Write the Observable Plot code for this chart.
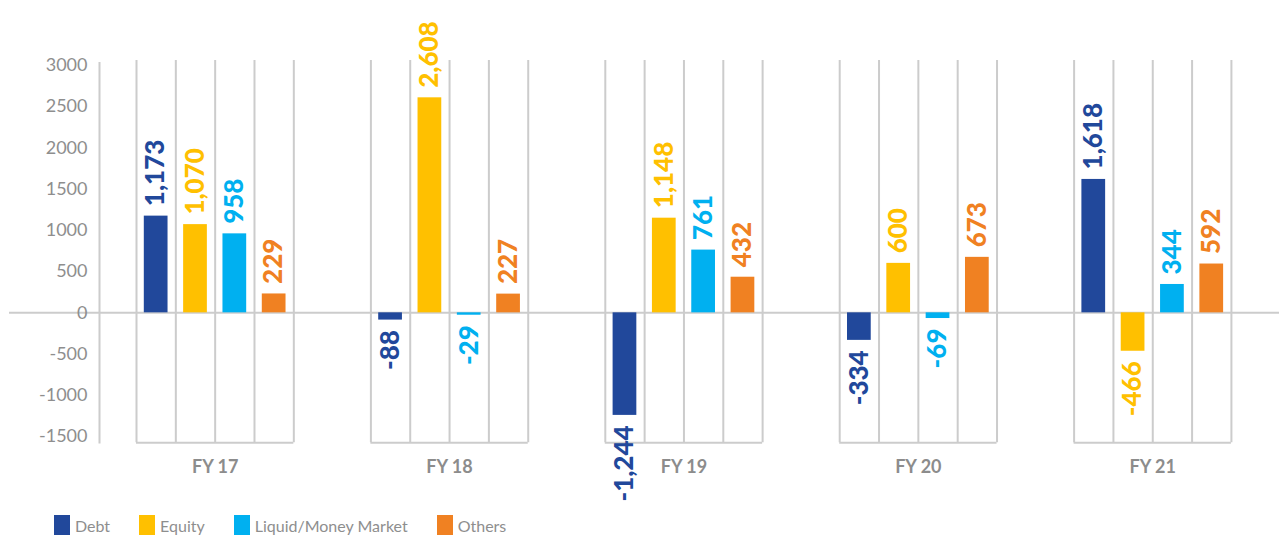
<!DOCTYPE html>
<html><head><meta charset="utf-8">
<script src="https://cdn.jsdelivr.net/npm/d3@7"></script>
<script src="https://cdn.jsdelivr.net/npm/@observablehq/plot@0.6"></script>
<style>
body{margin:0;background:#fff;font-family:Lato,"Open Sans",sans-serif;}
#chart{position:relative;width:1279px;height:535px;overflow:hidden;}
.legend{position:absolute;left:54px;top:515px;display:flex;align-items:center;font-size:16px;color:#8e8e8e;}
.item{display:flex;align-items:center;margin-right:29px;}
.sw{width:16px;height:20px;margin-right:5px;}
</style></head><body><div id="chart"></div><script>
// ---- data ----
const years = ["FY 17", "FY 18", "FY 19", "FY 20", "FY 21"];
const series = ["Debt", "Equity", "Liquid/Money Market", "Others"];
const debt = [1173, -88, -1244, -334, 1618];
const equity = [1070, 2608, 1148, 600, -466];
const liquid = [958, -29, 761, -69, 344];
const others = [229, 227, 432, 673, 592];
const colors = ["#21489B", "#FFC000", "#00B0F0", "#F08122"];
const yTicks = [-1500, -1000, -500, 0, 500, 1000, 1500, 2000, 2500, 3000];

const seriesValues = [debt, equity, liquid, others];
const rows = [];
years.forEach((yr, g) => series.forEach((s, i) => rows.push({year: yr, g, i, series: s, value: seriesValues[i][g]})));

// ---- layout ----
const SLOT = 39.33;            // px per bar slot
const STEP = 234.4 / SLOT;     // group step in slots
const FIRST = 136;             // px of first slot boundary
const W = 1279;
const ML = 99;
const xDomain = [(ML - FIRST) / SLOT, (W - FIRST) / SLOT];
const gridColor = "#cccccc";
const fmt = v => v.toLocaleString("en-US");

const bounds = [];
years.forEach((yr, g) => { for (let s = 0; s <= 4; s++) bounds.push(g * STEP + s); });

const plot = Plot.plot({
  width: W,
  height: 505,
  marginLeft: ML,
  marginRight: 0,
  marginTop: 20,
  marginBottom: 60,
  style: {fontFamily: "Lato, 'Open Sans', sans-serif", background: "#fff"},
  x: {domain: xDomain, axis: null},
  y: {domain: [-1500, 3000], range: [436, 65], axis: null},
  color: {domain: series, range: colors},
  marks: [
    Plot.ruleX(bounds, {x: d => d, y1: -1577, y2: 3061, stroke: gridColor, strokeWidth: 2}),
    Plot.ruleY(years, {x1: (d, g) => g * STEP, x2: (d, g) => g * STEP + 4, y: -1577, stroke: gridColor, strokeWidth: 2}),
    Plot.ruleX([xDomain[0]], {y1: -1590, y2: 3036, stroke: gridColor, strokeWidth: 2}),
    Plot.ruleY([0], {x1: (9 - FIRST) / SLOT, x2: xDomain[1], stroke: gridColor, strokeWidth: 2}),
    Plot.rect(rows, {
      x1: d => d.g * STEP + d.i, x2: d => d.g * STEP + d.i + 1,
      y1: 0, y2: "value", fill: "series", insetLeft: 7.8, insetRight: 7.8
    }),
    Plot.text(rows.filter(d => d.value >= 0), {
      x: d => d.g * STEP + d.i + 0.5, y: "value", text: d => fmt(d.value),
      fill: "series", rotate: -90, textAnchor: "start", lineAnchor: "middle",
      dy: -10, fontSize: 26, fontWeight: 900
    }),
    Plot.text(rows.filter(d => d.value < 0), {
      x: d => d.g * STEP + d.i + 0.5, y: "value", text: d => fmt(d.value),
      fill: "series", rotate: -90, textAnchor: "end", lineAnchor: "middle",
      dy: 10, fontSize: 26, fontWeight: 900
    }),
    Plot.axisY({ticks: yTicks, tickFormat: d => String(d), tickSize: 0, tickPadding: 12, fontSize: 18, color: "#8e8e8e", label: null}),
    Plot.axisX({ticks: years.map((d, g) => g * STEP + 2), tickFormat: (d, i) => years[i], tickSize: 0, tickPadding: 15, fontSize: 18, fontWeight: 700, color: "#8c8c8c", label: null})
  ]
});

const chart = document.getElementById("chart");
chart.appendChild(plot);

const legend = document.createElement("div");
legend.className = "legend";
series.forEach((s, i) => {
  const it = document.createElement("div");
  it.className = "item";
  const sw = document.createElement("span");
  sw.className = "sw";
  sw.style.background = colors[i];
  const tx = document.createElement("span");
  tx.textContent = s;
  it.appendChild(sw); it.appendChild(tx);
  legend.appendChild(it);
});
chart.appendChild(legend);
</script></body></html>
